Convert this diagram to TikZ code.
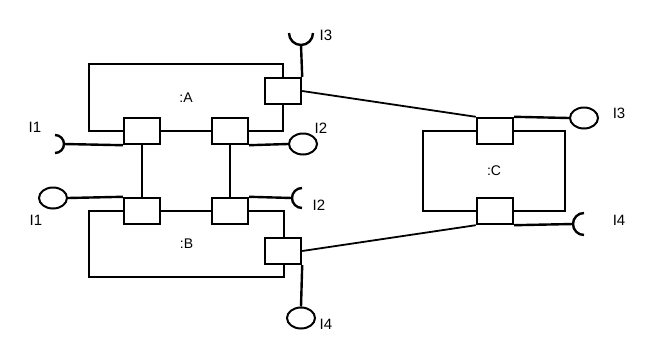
\documentclass[tikz,border=0pt]{standalone}
\usepackage{fontspec}
\setmainfont{Liberation Sans}
\usetikzlibrary{shapes.geometric}
\begin{document}
\begin{tikzpicture}[x=1pt,y=-1pt,
  ln/.style={line width=2.4pt},
  link/.style={line width=1.8pt},
  port/.style={draw,line width=2.4pt,fill=white,minimum width=36pt,minimum height=26pt,inner sep=0pt},
  part/.style={draw,line width=2.4pt,inner sep=0pt,font=\fontsize{14}{14}\selectfont},
  lolli/.style={draw,ellipse,line width=2pt,fill=white,minimum width=28pt,minimum height=21pt,inner sep=0pt},
  lbl/.style={font=\fontsize{15}{15}\selectfont,inner sep=0pt}]
\useasboundingbox (0,0) rectangle (662,338);
% parts
\node[part,minimum width=194pt,minimum height=67pt] (A) at (186,97.5) {:A};
\node[part,minimum width=195pt,minimum height=66pt] (B) at (186.5,244) {:B};
\node[part,minimum width=142pt,minimum height=80pt] (C) at (494,171) {:C};
% ports
\node[port] (pA1) at (142,131) {};
\node[port] (pA2) at (230,131) {};
\node[port] (pA3) at (283,91) {};
\node[port] (pB1) at (142,211) {};
\node[port] (pB2) at (230,211) {};
\node[port] (pB3) at (283,251) {};
\node[port] (pC1) at (495,131) {};
\node[port] (pC2) at (495,211) {};
% lollipops (provided interfaces)
\node[lolli] (lI2A) at (303,144) {};
\node[lolli] (lI1B) at (53,198) {};
\node[lolli] (lI4B) at (301,318) {};
\node[lolli] (lI3C) at (584,118) {};
% socket apexes (required interfaces)
\coordinate (sI1A) at (64,144);
\coordinate (sI3A) at (301,45);
\coordinate (sI2B) at (292,198);
\coordinate (sI4C) at (573,224);
% connectors
\draw[ln] (pA1.south west) -- (sI1A);
\draw[ln] (pA1.south) -- (pB1.north);
\draw[ln] (pA2.south) -- (pB2.north);
\draw[ln] (pA2.south east) -- (lI2A.west);
\draw[ln] (pA3.north east) -- (sI3A);
\draw[link] (pA3.east) -- (pC1.north west);
\draw[ln] (pB1.north west) -- (lI1B.east);
\draw[ln] (pB2.north east) -- (sI2B);
\draw[ln] (pB3.south east) -- (lI4B.north);
\draw[link] (pB3.east) -- (pC2.south west);
\draw[ln] (pC1.north east) -- (lI3C.west);
\draw[ln] (pC2.south east) -- (sI4C);
% sockets
\draw[ln] (sI1A) arc[start angle=0,end angle=90,radius=9pt] (sI1A) arc[start angle=0,end angle=-90,radius=9pt];
\draw[ln] (sI3A) arc[start angle=-90,end angle=0,radius=12pt] (sI3A) arc[start angle=-90,end angle=-180,radius=12pt];
\draw[ln] (sI2B) arc[start angle=180,end angle=90,radius=10pt] (sI2B) arc[start angle=180,end angle=270,radius=10pt];
\draw[ln] (sI4C) arc[start angle=180,end angle=90,radius=11pt] (sI4C) arc[start angle=180,end angle=270,radius=11pt];
% labels
\node[lbl] (tI1A) at (35,127) {I1};
\node[lbl] (tI3A) at (326,35) {I3};
\node[lbl] (tI2A) at (321,128) {I2};
\node[lbl] (tI1B) at (36,220) {I1};
\node[lbl] (tI2B) at (319,205) {I2};
\node[lbl] (tI4B) at (326,324) {I4};
\node[lbl] (tI3C) at (619,113) {I3};
\node[lbl] (tI4C) at (619,220) {I4};
\end{tikzpicture}
\end{document}
